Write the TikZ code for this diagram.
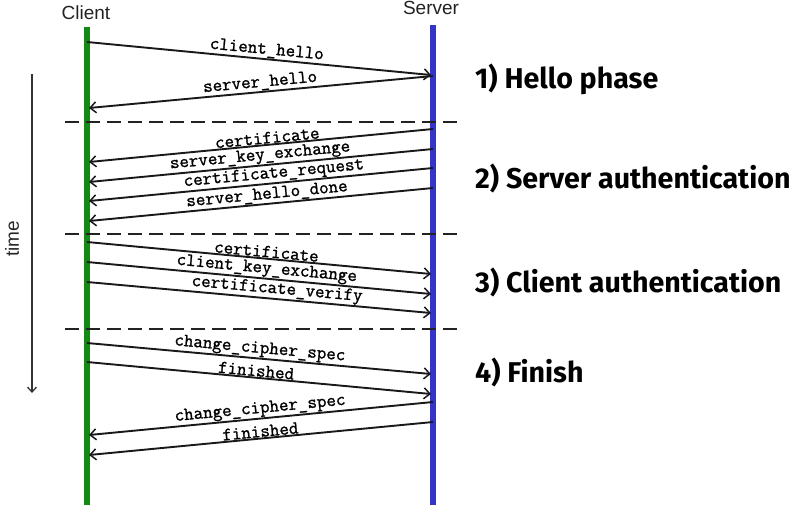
\documentclass[tikz,border=0pt]{standalone}
\usepackage{fontspec}
\setmainfont{Liberation Sans}
\newfontfamily\msgfont[FakeBold=1.2]{Latin Modern Mono}
\newfontfamily\phasefont{Fira Sans}
\usetikzlibrary{arrows.meta}
\definecolor{cgreen}{HTML}{138A13}
\definecolor{sblue}{HTML}{3434C8}
\definecolor{dgray}{HTML}{222222}
\tikzset{
  lifeline/.style={line width=5.5pt},
  msg/.style={line width=1.9pt, draw=black!90, -{Straight Barb[length=6pt,width=11pt,line width=1.5pt]}},
  lbl/.style={font=\msgfont\fontsize{18.5}{19}\selectfont, sloped, above, inner sep=0.5pt},
  sep/.style={line width=2pt, draw=dgray, dash pattern=on 14pt off 7pt},
  phase/.style={font=\phasefont\bfseries\fontsize{28.6}{30}\selectfont, anchor=base west, inner sep=0pt},
  actor/.style={font=\fontsize{19}{20}\selectfont, text=dgray},
}
\begin{document}
\begin{tikzpicture}[x=1pt,y=-1pt]
\useasboundingbox (0,0) rectangle (801,512);
% lifelines
\coordinate (ctop) at (87,27); \coordinate (cbot) at (87,505);
\coordinate (stop) at (433,25); \coordinate (sbot) at (433,505);
\draw[lifeline, cgreen] (ctop) -- (cbot);
\draw[lifeline, sblue] (stop) -- (sbot);
\node[actor] (client) at (86,13) {Client};
\node[actor] (server) at (431,8) {Server};
% time arrow
\coordinate (t0) at (32,74); \coordinate (t1) at (32,393);
\draw[line width=1.7pt, draw=black!80, -{Straight Barb[length=5pt,width=9pt,line width=1.3pt]}] (t0) -- (t1);
\node[actor, text=black!85, rotate=90] (time) at (12,239) {time};
% separators
\coordinate (d1a) at (65,122); \coordinate (d1b) at (462,122);
\coordinate (d2a) at (65,234); \coordinate (d2b) at (462,234);
\coordinate (d3a) at (65,329); \coordinate (d3b) at (462,329);
\draw[sep] (d1a) -- (d1b);
\draw[sep] (d2a) -- (d2b);
\draw[sep] (d3a) -- (d3b);
% phase 1
\coordinate (m1a) at (87,42);  \coordinate (m1b) at (431,75);
\coordinate (m2a) at (433,76); \coordinate (m2b) at (89,108);
\draw[msg] (m1a) -- node[lbl, pos=0.52] {client\_hello} (m1b);
\draw[msg] (m2a) -- node[lbl, pos=0.5] {server\_hello} (m2b);
% phase 2
\coordinate (m3a) at (433,129); \coordinate (m3b) at (89,162);
\coordinate (m4a) at (433,149); \coordinate (m4b) at (89,182);
\coordinate (m5a) at (433,168); \coordinate (m5b) at (89,201);
\coordinate (m6a) at (433,188); \coordinate (m6b) at (89,221);
\draw[msg] (m3a) -- node[lbl, pos=0.48] {certificate} (m3b);
\draw[msg] (m4a) -- node[lbl, pos=0.5] {server\_key\_exchange} (m4b);
\draw[msg] (m5a) -- node[lbl, pos=0.46] {certificate\_request} (m5b);
\draw[msg] (m6a) -- node[lbl, pos=0.48] {server\_hello\_done} (m6b);
% phase 3
\coordinate (m7a) at (87,242); \coordinate (m7b) at (431,274);
\coordinate (m8a) at (87,262); \coordinate (m8b) at (431,294);
\coordinate (m9a) at (87,282); \coordinate (m9b) at (431,313);
\draw[msg] (m7a) -- node[lbl, pos=0.52] {certificate} (m7b);
\draw[msg] (m8a) -- node[lbl, pos=0.52] {client\_key\_exchange} (m8b);
\draw[msg] (m9a) -- node[lbl, pos=0.55] {certificate\_verify} (m9b);
% phase 4
\coordinate (m10a) at (87,343); \coordinate (m10b) at (431,374);
\coordinate (m11a) at (87,362); \coordinate (m11b) at (431,394);
\coordinate (m12a) at (433,402); \coordinate (m12b) at (89,435);
\coordinate (m13a) at (433,422); \coordinate (m13b) at (89,455);
\draw[msg] (m10a) -- node[lbl, pos=0.5] {change\_cipher\_spec} (m10b);
\draw[msg] (m11a) -- node[lbl, pos=0.49] {finished} (m11b);
\draw[msg] (m12a) -- node[lbl, pos=0.5] {change\_cipher\_spec} (m12b);
\draw[msg] (m13a) -- node[lbl, pos=0.5] {finished} (m13b);
% phase labels
\node[phase] (p1) at (475,88) {1) Hello phase};
\node[phase] (p2) at (475,188) {2) Server authentication};
\node[phase] (p3) at (475,292) {3) Client authentication};
\node[phase] (p4) at (475,382) {4) Finish};
\end{tikzpicture}
\end{document}
